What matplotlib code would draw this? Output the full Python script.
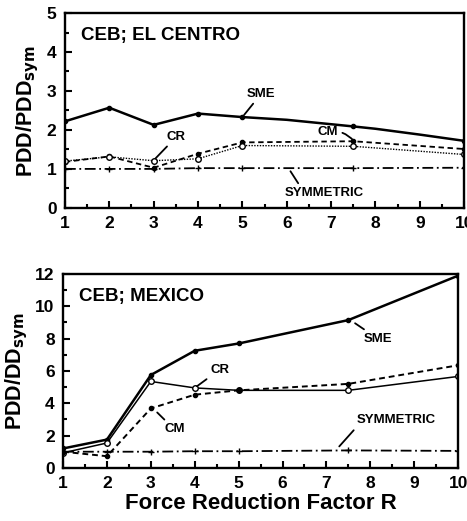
import matplotlib
matplotlib.use("Agg")
import matplotlib.pyplot as plt
from matplotlib.ticker import MultipleLocator

plt.rcParams['font.family'] = ['Liberation Sans', 'DejaVu Sans']
plt.rcParams['font.weight'] = 'bold'

# El Centro data
ec_x_sme = [1, 2, 3, 4, 5, 6, 7.5, 8, 9, 10]
ec_sme = [2.22, 2.57, 2.13, 2.42, 2.33, 2.26, 2.09, 2.03, 1.88, 1.72]
ec_x = [1, 2, 3, 4, 5, 7.5, 10]
ec_cm = [1.18, 1.32, 1.03, 1.39, 1.68, 1.71, 1.51]
ec_cr = [1.2, 1.31, 1.21, 1.26, 1.6, 1.58, 1.37]
ec_sym = [1.0, 1.0, 1.0, 1.02, 1.02, 1.02, 1.03]

# Mexico data
mx_x = [1, 2, 3, 4, 5, 7.5, 10]
mx_sme = [1.2, 1.75, 5.75, 7.25, 7.7, 9.15, 11.9]
mx_cr = [0.93, 1.54, 5.35, 4.95, 4.8, 4.8, 5.66]
mx_cm = [1.0, 0.72, 3.68, 4.53, 4.8, 5.2, 6.35]
mx_sym = [1.0, 1.0, 1.0, 1.03, 1.03, 1.08, 1.05]

xticks = [1, 2, 3, 4, 5, 6, 7, 8, 9, 10]

fig = plt.figure(figsize=(4.67, 5.21), dpi=100)
ax1 = fig.add_axes([0.139, 0.601, 0.855, 0.374])
ax2 = fig.add_axes([0.135, 0.102, 0.846, 0.372])

ARW = dict(arrowstyle='-', color='black', lw=1.3, shrinkA=1, shrinkB=2)

def style(ax, ymax, ymaj, ymin):
    ax.set_xlim(1, 10)
    ax.set_ylim(0, ymax)
    ax.set_xticks(xticks)
    ax.xaxis.set_minor_locator(MultipleLocator(0.5))
    ax.yaxis.set_major_locator(MultipleLocator(ymaj))
    ax.yaxis.set_minor_locator(MultipleLocator(ymin))
    ax.tick_params(which='both', direction='in', width=1.5, labelsize=12.5)
    ax.tick_params(which='major', length=5, pad=6)
    ax.tick_params(which='minor', length=3)
    for s in ax.spines.values():
        s.set_linewidth(1.7)
    for lab in ax.get_xticklabels() + ax.get_yticklabels():
        lab.set_fontweight('heavy')

# top panel
ax1.plot(ec_x_sme, ec_sme, color='black', lw=1.8, marker='o', ms=3,
         markevery=[0, 1, 2, 3, 4, 6, 9])
ax1.plot(ec_x, ec_cm, color='black', lw=1.3, ls=(0, (3, 2)), marker='o', ms=3)
ax1.plot(ec_x, ec_cr, color='black', lw=1.0, ls=(0, (1, 1)), marker='o', ms=4,
         mfc='white')
ax1.plot(ec_x, ec_sym, color='black', lw=1.3, ls=(0, (6, 2, 1, 2)), marker='+', ms=4)
style(ax1, 5, 1, 0.5)
ax1.set_ylabel('PDD/PDD$_{\\mathbf{sym}}$', fontsize=15.5, fontweight='bold')
ax1.text(0.04, 0.93, 'CEB; EL CENTRO', transform=ax1.transAxes, fontsize=13.5,
         fontweight='bold', va='top')
ax1.annotate('SME', xy=(5.0, 2.33), xytext=(5.1, 2.85), fontsize=9.5, fontweight='bold',
             arrowprops=ARW)
ax1.annotate('CR', xy=(3.0, 1.22), xytext=(3.3, 1.75), fontsize=9.5, fontweight='bold',
             arrowprops=ARW)
ax1.annotate('CM', xy=(7.55, 1.66), xytext=(6.7, 1.88), fontsize=9.5, fontweight='bold',
             arrowprops=dict(ARW, connectionstyle='arc3,rad=-0.3'))
ax1.annotate('SYMMETRIC', xy=(6.05, 1.0), xytext=(6.85, 0.3), fontsize=9.5,
             fontweight='bold', ha='center',
             arrowprops=dict(ARW, relpos=(0.2, 1.0)))

# bottom panel
ax2.plot(mx_x, mx_sme, color='black', lw=1.8, marker='o', ms=3)
ax2.plot(mx_x, mx_cr, color='black', lw=1.1, marker='o', ms=4, mfc='white')
ax2.plot(mx_x, mx_cm, color='black', lw=1.4, ls=(0, (3, 2)), marker='o', ms=3)
ax2.plot(mx_x, mx_sym, color='black', lw=1.3, ls=(0, (6, 2, 1, 2)), marker='+', ms=4)
style(ax2, 12, 2, 1)
ax2.set_ylabel('PDD/DD$_{\\mathbf{sym}}$', fontsize=15.5, fontweight='bold')
ax2.set_xlabel('Force Reduction Factor R', fontsize=16, fontweight='bold', labelpad=1)
ax2.text(0.04, 0.93, 'CEB; MEXICO', transform=ax2.transAxes, fontsize=13.5,
         fontweight='bold', va='top')
ax2.annotate('SME', xy=(7.6, 9.05), xytext=(7.85, 7.8), fontsize=9.5, fontweight='bold',
             arrowprops=ARW)
ax2.annotate('CR', xy=(4.0, 4.95), xytext=(4.35, 5.9), fontsize=9.5, fontweight='bold',
             arrowprops=ARW)
ax2.annotate('CM', xy=(3.1, 3.55), xytext=(3.3, 2.2), fontsize=9.5, fontweight='bold',
             arrowprops=ARW)
ax2.annotate('SYMMETRIC', xy=(7.25, 1.2), xytext=(8.6, 2.75), fontsize=9.5,
             fontweight='bold', ha='center',
             arrowprops=dict(ARW, relpos=(0.0, 0.0)))

fig.savefig('out.png', dpi=100)
